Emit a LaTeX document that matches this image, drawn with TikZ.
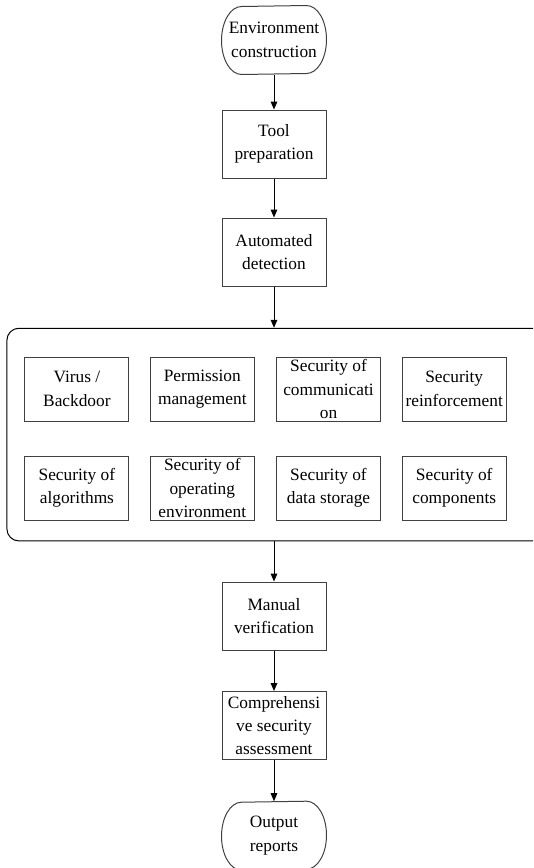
\documentclass[tikz,border=0pt]{standalone}
\usepackage{fontspec}
\setmainfont{Liberation Serif}
\usetikzlibrary{arrows.meta}

\tikzset{
  outline/.style={draw={rgb, 255:red, 64; green, 64; blue, 64 },line width=0.75pt},
  box/.style={outline,minimum width=78pt,minimum height=51pt,inner sep=0pt,align=center,font=\fontsize{13}{17.5}\selectfont},
  term/.style={box,draw=none},
  item/.style={box,minimum height=48pt},
  flow/.style={-{Triangle[length=6pt,width=5pt]},line width=0.75pt}
}

\begin{document}
\begin{tikzpicture}[x=0.75pt,y=0.75pt,yscale=-1,xscale=1]
\useasboundingbox (0,0) rectangle (533,868);
\clip (0,0) rectangle (533,868);

%Flowchart: Terminator
\node [term] (env) at (274,40) {Environment\\construction};
\draw [outline] ([xshift=-15pt]env.north east) arc[start angle=-90,end angle=90,x radius=20,y radius=34] -- ([xshift=15pt]env.south west) arc[start angle=90,end angle=270,x radius=20,y radius=34] -- cycle;
%Flowchart: Process
\node [box] (tool) at (274,144) {Tool\\preparation};
%Flowchart: Process
\node [box] (auto) at (274,252) {Automated\\detection};

%Rounded Rect
\node [draw,rounded corners=9pt,line width=0.75pt,minimum width=403.5pt,minimum height=159.5pt] (group) at (275.9,434.6) {};

%Shape: Rectangle
\node [item] (virus) at (76.9,389) {Virus /\\Backdoor};
\node [item] (perm) at (202.3,389) {Permission\\management};
\node [item] (comm) at (328.5,389) {Security of\\communicati\\on};
\node [item] (reinf) at (454.2,389) {Security\\reinforcement};
\node [item] (algo) at (76.9,488) {Security of\\algorithms};
\node [item] (openv) at (202.3,488) {Security of\\operating\\environment};
\node [item] (store) at (328.5,488) {Security of\\data storage};
\node [item] (comp) at (454.2,488) {Security of\\components};

%Flowchart: Process
\node [box] (manual) at (274,616) {Manual\\verification};
%Flowchart: Process
\node [box] (assess) at (274,725.5) {Comprehensi\\ve security\\assessment};
%Flowchart: Terminator
\node [term] (output) at (274,835.7) {Output\\reports};
\draw [outline] ([xshift=-15pt]output.north east) arc[start angle=-90,end angle=90,x radius=20,y radius=34] -- ([xshift=15pt]output.south west) arc[start angle=90,end angle=270,x radius=20,y radius=34] -- cycle;

%Straight Lines
\draw [flow] (env) -- (tool);
\draw [flow] (tool) -- (auto);
\draw [flow] (auto) -- (auto |- group.north);
\draw [flow] (auto |- group.south) -- (manual);
\draw [flow] (manual) -- (assess);
\draw [flow] (assess) -- (output);
\end{tikzpicture}
\end{document}
